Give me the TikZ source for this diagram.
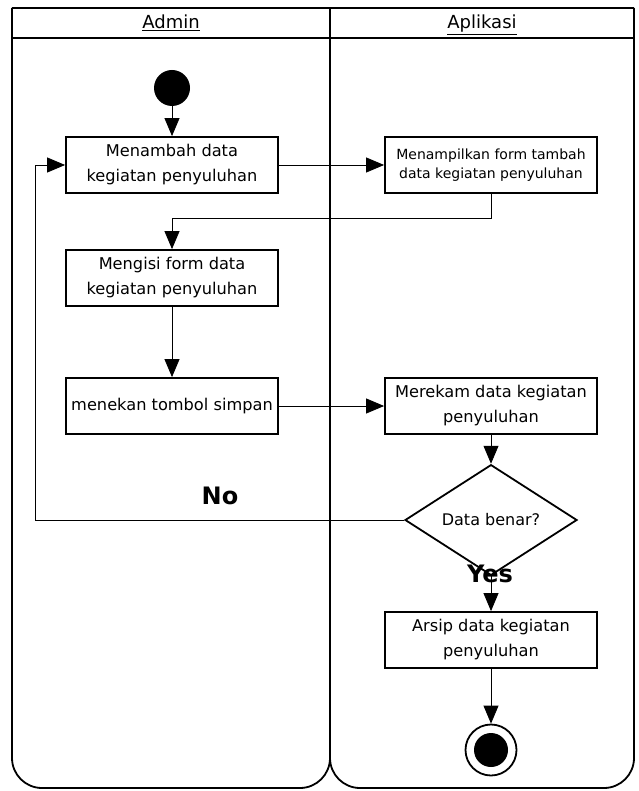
\documentclass[tikz,border=0pt]{standalone}
\usepackage{fontspec}
\setmainfont{DejaVu Sans}
\usetikzlibrary{arrows.meta,shapes.geometric}
\begin{document}
\begin{tikzpicture}[x=1pt,y=-1pt,
  lane/.style={draw=black,line width=1.8pt},
  act/.style={draw=black,line width=1.8pt,minimum width=212pt,minimum height=56pt,align=center,inner sep=2pt,
    font=\fontsize{16.2}{25}\selectfont},
  actsmall/.style={act,font=\fontsize{14}{19}\selectfont},
  flow/.style={draw=black,line width=0.8pt,-{Triangle[length=18pt,width=15pt]}},
  guard/.style={font=\fontsize{24}{28}\selectfont\bfseries},
  hdr/.style={font=\fontsize{18}{22}\selectfont,anchor=base,inner sep=0pt}]
\useasboundingbox (0,0) rectangle (638,791);
% swimlanes
\draw[lane] (12,8) -- (634,8);
\draw[lane] (12,38) -- (634,38);
\draw[lane,rounded corners=30pt] (12,8) -- (12,788) -- (330,788) -- (330,8);
\draw[lane,rounded corners=30pt] (330,8) -- (330,788) -- (634,788) -- (634,8);
\node[hdr] (hadmin) at (171,29) {\underline{Admin}};
\node[hdr] (happ) at (482,29) {\underline{Aplikasi}};
% nodes
\node[circle,fill=black,minimum size=36pt,inner sep=0pt] (start) at (172,88) {};
\node[act] (A) at (172,165) {Menambah data\\kegiatan penyuluhan};
\node[actsmall] (B) at (491,165) {Menampilkan form tambah\\data kegiatan penyuluhan};
\node[act] (C) at (172,278) {Mengisi form data\\kegiatan penyuluhan};
\node[act] (D) at (172,406) {menekan tombol simpan};
\node[act] (E) at (491,406) {Merekam data kegiatan\\penyuluhan};
\node[diamond,draw=black,line width=1.8pt,minimum width=172pt,minimum height=100pt,inner sep=0pt,
  font=\fontsize{16}{20}\selectfont] (dec) at (491,520) {Data benar?};
\node[act] (F) at (491,640) {Arsip data kegiatan\\penyuluhan};
\node[circle,draw=black,line width=1.8pt,minimum size=51pt,inner sep=0pt] (end) at (491,750) {};
\node[circle,fill=black,minimum size=34pt,inner sep=0pt] (endin) at (491,750) {};
% labels
\node[guard] (no) at (220,496) {No};
\node[guard] (yes) at (490,574) {Yes};
% connectors
\coordinate (bc) at (491,218);
\coordinate (nl) at (35,520);
\draw[flow] (start) -- (A);
\draw[flow] (A) -- (B);
\draw[flow] (B.south) -- (bc) -| (C.north);
\draw[flow] (C) -- (D);
\draw[flow] (D) -- (E);
\draw[flow] (E) -- (dec);
\draw[flow] (dec.west) -- (nl) |- (A.west);
\draw[flow] (dec) -- (F);
\draw[flow] (F) -- (end);
\end{tikzpicture}
\end{document}
